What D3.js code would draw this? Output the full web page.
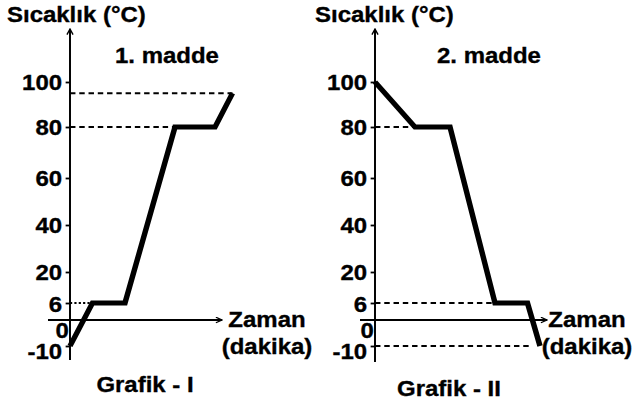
<!DOCTYPE html>
<html>
<head>
<meta charset="utf-8">
<script src="https://cdn.jsdelivr.net/npm/d3@7"></script>
<style>
  html, body { margin: 0; padding: 0; background: #fff; }
  text { font-family: "Liberation Sans", Arial, sans-serif; font-weight: bold; fill: #000;
         stroke: #000; stroke-width: 0.35px; }
</style>
</head>
<body>
<div id="chart"></div>
<script>
// ---- data ----
var yTicks = [-10, 0, 6, 20, 40, 60, 80, 100];

// Grafik - I (1. madde)
var time1 = [0, 4.5, 11, 21, 29, 32.5];
var temp1 = [-10, 6, 6, 80, 80, 95];
var guideTemp1 = [95, 80, 6];
var guideEnd1  = [32.5, 21, 4.5];

// Grafik - II (2. madde)
var time2 = [0, 8, 15, 24, 30.5, 33];
var temp2 = [100, 80, 80, 6, 6, -10];
var guideTemp2 = [80, 6, -10];
var guideEnd2  = [8, 24, 31.5];

// ---- layout ----
// the original picture is a bit stretched sideways, so draw in a narrower box and let the svg stretch it
var SX = 1.09;
var W = 632, H = 405;
var FS = 22;
function px(v) { return v / SX; }

// the vertical axis is drawn with uneven spacing between ticks
var yRange = [346, 320, 303, 272, 225, 178, 127, 82];

var svg = d3.select("#chart").append("svg")
  .attr("width", W)
  .attr("height", H)
  .attr("viewBox", "0 0 " + (W / SX) + " " + H)
  .attr("preserveAspectRatio", "none")
  .style("display", "block");

svg.append("defs").append("marker")
  .attr("id", "arrow")
  .attr("viewBox", "0 0 10 10")
  .attr("refX", 9).attr("refY", 5)
  .attr("markerWidth", 7).attr("markerHeight", 7)
  .attr("markerUnits", "userSpaceOnUse")
  .attr("orient", "auto")
  .append("path")
  .attr("d", "M1,1 L9,5 L1,9")
  .attr("fill", "none")
  .attr("stroke", "#000")
  .attr("stroke-width", 1.8);

var y = d3.scaleLinear().domain(yTicks).range(yRange);

function drawPanel(cfg) {
  var x = d3.scaleLinear().domain([0, 35]).range([px(cfg.axisX), px(cfg.axisX + 175)]);
  var g = svg.append("g");

  // dashed guide lines
  cfg.guideTemp.forEach(function(v, i) {
    g.append("line")
      .attr("x1", x(0)).attr("x2", x(cfg.guideEnd[i]))
      .attr("y1", y(v)).attr("y2", y(v))
      .attr("stroke", "#000")
      .attr("stroke-width", 2)
      .attr("stroke-dasharray", cfg.dotted && v === 6 ? "2,2" : "5,3.5");
  });

  // y axis with ticks
  var ax = g.append("g")
    .attr("transform", "translate(" + x(0) + ",0)")
    .call(d3.axisLeft(y).tickValues(yTicks).tickSize(4).tickPadding(3.3).tickSizeOuter(0)
      .tickFormat(function(d) { return String(d); }));
  ax.select(".domain").remove();
  ax.attr("font-size", FS).attr("font-family", null);
  ax.selectAll("line").attr("stroke", "#000").attr("stroke-width", 1.8);
  ax.selectAll(".tick").filter(function(d) { return d === 6; })
    .select("text").attr("dy", "0.4em");
  ax.selectAll(".tick").filter(function(d) { return d === 0; })
    .call(function(t) {
      t.select("line").remove();
      t.select("text").attr("x", -1).attr("dy", "0.78em");
    });
  ax.selectAll(".tick").filter(function(d) { return d === -10; })
    .select("text").attr("dy", "0.55em");

  // axis lines with arrows
  g.append("line")
    .attr("x1", x(0)).attr("x2", x(0))
    .attr("y1", cfg.axisBottom).attr("y2", 29)
    .attr("stroke", "#000").attr("stroke-width", 1.8)
    .attr("marker-end", "url(#arrow)");
  g.append("line")
    .attr("x1", px(cfg.xStart)).attr("x2", px(cfg.xEnd))
    .attr("y1", y(0)).attr("y2", y(0))
    .attr("stroke", "#000").attr("stroke-width", 1.8)
    .attr("marker-end", "url(#arrow)");

  // heating / cooling curve
  var pts = cfg.time.map(function(t, i) { return [t, cfg.temp[i]]; });
  g.append("path")
    .datum(pts)
    .attr("fill", "none")
    .attr("stroke", "#000")
    .attr("stroke-width", 5)
    .attr("stroke-linejoin", "miter")
    .attr("d", d3.line().x(function(d) { return x(d[0]); }).y(function(d) { return y(d[1]); }));

  // texts
  g.append("text").attr("x", px(cfg.titleX)).attr("y", 22).attr("font-size", FS).text("Sıcaklık (°C)");
  g.append("text").attr("x", px(cfg.nameX)).attr("y", 63).attr("font-size", FS).text(cfg.name);
  g.append("text").attr("x", px(cfg.unitX)).attr("y", 327).attr("font-size", FS)
    .attr("text-anchor", "middle").text("Zaman");
  g.append("text").attr("x", px(cfg.unitX)).attr("y", 354).attr("font-size", FS)
    .attr("text-anchor", "middle").text("(dakika)");
  g.append("text").attr("x", px(cfg.captionX)).attr("y", cfg.captionY).attr("font-size", FS)
    .attr("text-anchor", "middle").text(cfg.caption);
}

drawPanel({
  axisX: 70, axisBottom: 360, xStart: 48, xEnd: 222,
  time: time1, temp: temp1, guideTemp: guideTemp1, guideEnd: guideEnd1, dotted: true,
  titleX: 7, name: "1. madde", nameX: 115, unitX: 267,
  caption: "Grafik - I", captionX: 145, captionY: 392
});

drawPanel({
  axisX: 375, axisBottom: 362, xStart: 360, xEnd: 547,
  time: time2, temp: temp2, guideTemp: guideTemp2, guideEnd: guideEnd2, dotted: false,
  titleX: 315, name: "2. madde", nameX: 437, unitX: 587,
  caption: "Grafik - II", captionX: 449, captionY: 396
});
</script>
</body>
</html>
